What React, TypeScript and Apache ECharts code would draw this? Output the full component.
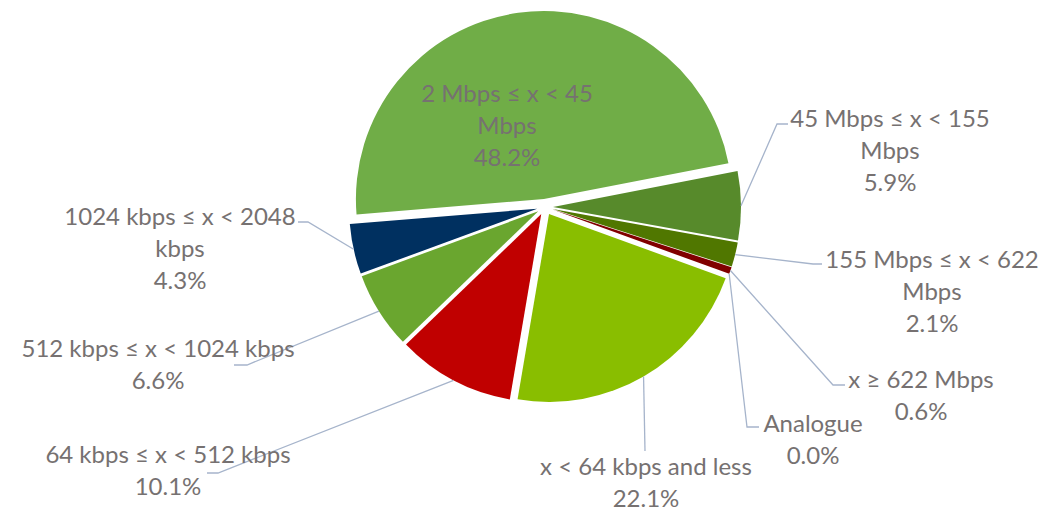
import React, { useEffect, useRef } from "react";
import * as echarts from "echarts";

// ---- data ----
const categories = [
  "45 Mbps ≤ x < 155 Mbps",
  "155 Mbps ≤ x < 622 Mbps",
  "x ≥ 622 Mbps",
  "Analogue",
  "x < 64 kbps and less",
  "64 kbps ≤ x < 512 kbps",
  "512 kbps ≤ x < 1024 kbps",
  "1024 kbps ≤ x < 2048 kbps",
  "2 Mbps ≤ x < 45 Mbps",
];
const shares = [5.9, 2.1, 0.6, 0.0, 22.1, 10.1, 6.6, 4.3, 48.2];
// whether the label wraps its last word onto a new line
const wrapLastWord = [true, true, false, false, false, false, false, true, true];

// ---- styles / layout ----
const colors = [
  "#578A2B",
  "#507700",
  "#800000",
  "#A5A5A5",
  "#89BE00",
  "#C00000",
  "#6AA62F",
  "#003060",
  "#70AD47",
];
const CX = 545;
const CY = 207;
const R = 188;
const EXPLODE = 8;
const FIRST_ANGLE = 79; // degrees clockwise from 12 o'clock
const labelCenters: [number, number][] = [
  [890, 149],
  [932, 290],
  [921, 394],
  [813, 438],
  [646, 481],
  [168, 469],
  [158, 363],
  [180, 247],
  [507, 124],
];
const labelElbows: ([number, number][] | null)[] = [
  [[777, 124], [788, 124]],
  [[813, 264], [822, 264]],
  [[833, 385], [845, 385]],
  [[747, 427], [759, 427]],
  [[645, 451], [645, 451]],
  [[218, 473], [207, 473]],
  [[247, 365], [234, 365]],
  [[308, 222], [298, 222]],
  null,
];

const total = shares.reduce((a, b) => a + b, 0);
function edgePoint(i: number): [number, number] {
  let cum = 0;
  for (let k = 0; k < i; k++) cum += shares[k];
  cum += shares[i] / 2;
  const a = ((FIRST_ANGLE + (cum / total) * 360) * Math.PI) / 180;
  const rr = R + EXPLODE;
  return [CX + rr * Math.sin(a), CY - rr * Math.cos(a)];
}

export default function App() {
  const ref = useRef<HTMLDivElement>(null);
  useEffect(() => {
    document.body.style.margin = "0";
    const chart = echarts.init(ref.current!, null, { renderer: "svg" });
    const common = {
      type: "pie",
      center: [CX, CY],
      radius: R,
      startAngle: 90 - FIRST_ANGLE,
      clockwise: true,
      silent: true,
    };
    chart.setOption({
      animation: false,
      backgroundColor: "#ffffff",
      series: [
        {
          ...common,
          z: 2,
          selectedMode: "multiple",
          selectedOffset: EXPLODE,
          label: { show: false },
          labelLine: { show: false },
          itemStyle: { borderWidth: 0 },
          data: categories.map((n, i) => ({
            name: n,
            value: shares[i],
            selected: true,
            itemStyle: { color: colors[i] },
          })),
        },
        {
          ...common,
          z: 5,
          itemStyle: { color: "rgba(0,0,0,0)", borderWidth: 0 },
          label: {
            show: true,
            color: "#767171",
            fontFamily: "Lato",
            fontSize: 24,
            lineHeight: 32,
            align: "center",
            formatter: (p: any) => {
              const i = p.dataIndex;
              const name = wrapLastWord[i]
                ? categories[i].replace(/ (\S+)$/, "\n$1")
                : categories[i];
              return name + "\n" + shares[i].toFixed(1) + "%";
            },
          },
          labelLine: {
            show: true,
            length: 10,
            length2: 10,
            lineStyle: { color: "#A6B4CB", width: 1.3 },
          },
          labelLayout: (p: any) => {
            const i = p.dataIndex;
            const [x, y] = labelCenters[i];
            const res: any = { x, y, align: "center", verticalAlign: "middle" };
            const el = labelElbows[i];
            if (el) res.labelLinePoints = [edgePoint(i), el[0], el[1]];
            return res;
          },
          data: categories.map((n, i) => ({
            name: n,
            value: shares[i],
            ...(labelElbows[i] ? {} : { labelLine: { show: false } }),
          })),
        },
      ],
    });
    return () => chart.dispose();
  }, []);
  return <div ref={ref} style={{ width: 1061, height: 512 }} />;
}
